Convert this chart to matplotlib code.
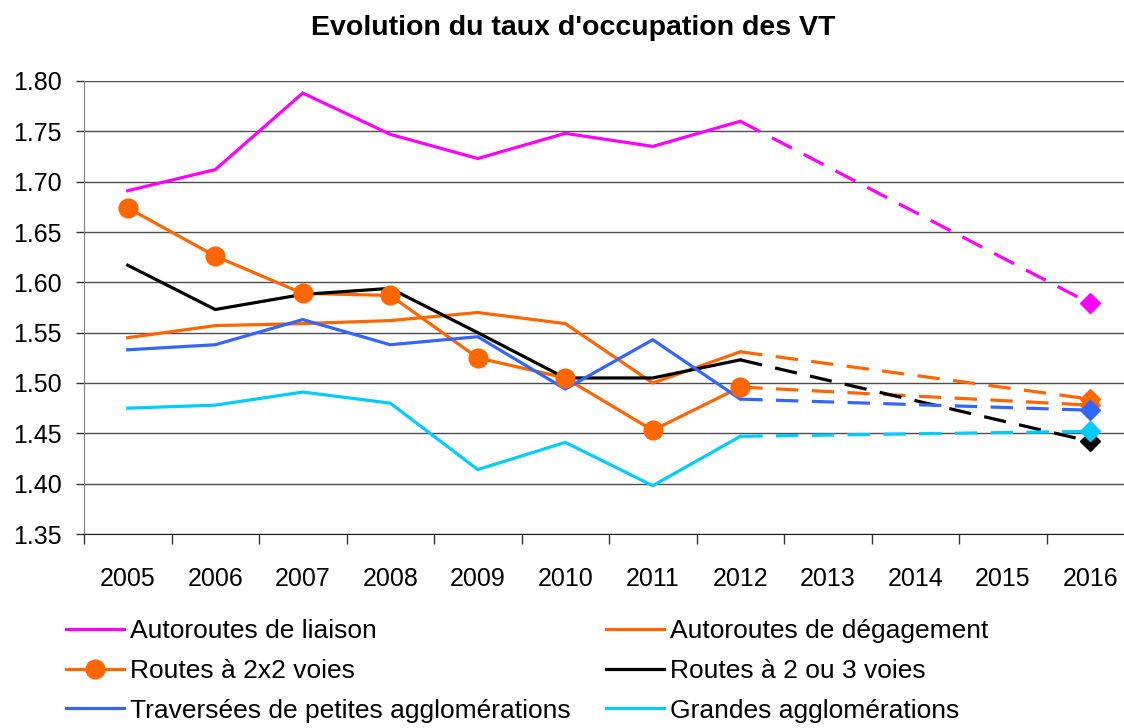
import numpy as np
import matplotlib
matplotlib.use("Agg")
from matplotlib import pyplot as plt
from matplotlib.lines import Line2D

plt.rcParams['font.family'] = ['Liberation Sans', 'DejaVu Sans']

years = [2005, 2006, 2007, 2008, 2009, 2010, 2011, 2012, 2013, 2014, 2015, 2016]
nan = np.nan

# taux d'occupation (2013-2015 non mesures)
liaison = [1.691, 1.712, 1.788, 1.747, 1.723, 1.748, 1.735, 1.760, nan, nan, nan, 1.579]
degagement = [1.545, 1.557, 1.559, 1.562, 1.570, 1.559, 1.500, 1.531, nan, nan, nan, 1.484]
routes_2x2 = [1.674, 1.626, 1.589, 1.587, 1.525, 1.505, 1.453, 1.496, nan, nan, nan, 1.478]
routes_2ou3 = [1.617, 1.573, 1.588, 1.594, 1.550, 1.505, 1.505, 1.523, nan, nan, nan, 1.442]
petites_agglo = [1.533, 1.538, 1.563, 1.538, 1.546, 1.494, 1.543, 1.484, nan, nan, nan, 1.473]
grandes_agglo = [1.475, 1.478, 1.491, 1.480, 1.414, 1.441, 1.398, 1.447, nan, nan, nan, 1.452]

labels = ["Autoroutes de liaison", "Autoroutes de dégagement", "Routes à 2x2 voies",
          "Routes à 2 ou 3 voies", "Traversées de petites agglomérations", "Grandes agglomérations"]
colors = ["#FF00FF", "#FF6600", "#FF6600", "#000000", "#3366FF", "#00CCFF"]

fig = plt.figure(figsize=(11.24, 7.28), dpi=100)
ax = fig.add_axes([84 / 1124, 1 - 534 / 728, 1050 / 1124, 453 / 728])

x = np.arange(len(years))
LW = 2.3
series = [liaison, degagement, routes_2x2, routes_2ou3, petites_agglo, grandes_agglo]
for i, (vals, col) in enumerate(zip(series, colors)):
    v = np.array(vals, dtype=float)
    z = 3 + i
    ax.plot(x[:8], v[:8], color=col, lw=LW, zorder=z, solid_joinstyle='miter')
    ax.plot([x[7], x[11]], [v[7], v[11]], color=col, lw=LW, dashes=(7.0, 4.2), zorder=z)
    ax.plot(x[11], v[11], marker='D', ms=10, color=col, mec=col, zorder=z + 0.5, ls='none')
    if i == 2:
        ax.plot(x[:8], v[:8], marker='o', ms=13.5, color=col, ls='none', zorder=20)

ax.set_xlim(-0.5, len(years) - 0.5)
ax.set_ylim(1.35, 1.80)
ax.set_yticks(np.arange(1.35, 1.801, 0.05))
ax.set_yticklabels(["%.2f" % t for t in np.arange(1.35, 1.801, 0.05)])
ax.yaxis.grid(True, color='#4d4d4d', lw=1.0)
ax.set_axisbelow(True)

ax.set_xticks(np.arange(-0.5, len(years), 1.0))
ax.set_xticklabels([])
ax.set_xticks(x, minor=True)
ax.set_xticklabels([str(y) for y in years], minor=True)
ax.tick_params(axis='x', which='major', length=7, width=1, color='#333333', direction='out')
ax.tick_params(axis='x', which='minor', length=0, pad=24, labelsize=18)
ax.tick_params(axis='y', length=6, width=1, color='#333333', pad=10, labelsize=18)

for s in ['top', 'right']:
    ax.spines[s].set_visible(False)
ax.spines['left'].set_color('#808080')
ax.spines['bottom'].set_color('#222222')

fig.text(573 / 1124, 1 - 28 / 728, "Evolution du taux d'occupation des VT",
         ha='center', va='center', fontsize=20.5, fontweight='bold')

handles = []
for i, col in enumerate(colors):
    if i == 2:
        handles.append(Line2D([], [], color=col, lw=LW, marker='o', ms=13.5))
    else:
        handles.append(Line2D([], [], color=col, lw=LW))

leg_kw = dict(loc='upper left', frameon=False, fontsize=19, borderpad=0, borderaxespad=0,
              handlelength=2.2, handletextpad=0.22, labelspacing=0.6, numpoints=1)
fig.legend([handles[0], handles[2], handles[4]], [labels[0], labels[2], labels[4]],
           bbox_to_anchor=(66 / 1124, 1 - 619 / 728), **leg_kw)
fig.legend([handles[1], handles[3], handles[5]], [labels[1], labels[3], labels[5]],
           bbox_to_anchor=(606 / 1124, 1 - 619 / 728), **leg_kw)

fig.savefig("out.png", dpi=100)
